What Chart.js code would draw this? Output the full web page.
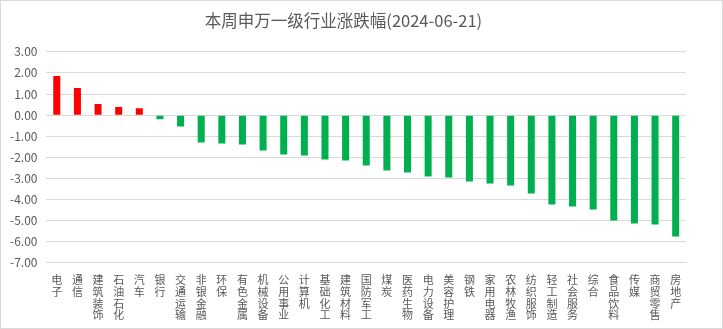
<!DOCTYPE html>
<html>
<head>
<meta charset="utf-8">
<script src="https://cdn.jsdelivr.net/npm/chart.js@4/dist/chart.umd.min.js"></script>
<style>
  html, body { margin: 0; padding: 0; background: #fff; }
  #wrap { position: relative; width: 723px; height: 329px; box-sizing: border-box; border: 1px solid #d9d9d9; }
  canvas { display: block; }
</style>
</head>
<body>
<div id="wrap"><canvas id="grafico" width="721" height="327"></canvas></div>
<script>
// 行业名称
const industrias = ["电子", "通信", "建筑装饰", "石油石化", "汽车", "银行", "交通运输", "非银金融", "环保", "有色金属",
  "机械设备", "公用事业", "计算机", "基础化工", "建筑材料", "国防军工", "煤炭", "医药生物", "电力设备", "美容护理",
  "钢铁", "家用电器", "农林牧渔", "纺织服饰", "轻工制造", "社会服务", "综合", "食品饮料", "传媒", "商贸零售", "房地产"];

// 本周涨跌幅 (%)
const cambios = [1.85, 1.28, 0.53, 0.38, 0.33, -0.20, -0.54, -1.30, -1.34, -1.39,
  -1.67, -1.86, -1.91, -2.10, -2.15, -2.39, -2.62, -2.72, -2.91, -2.95,
  -3.14, -3.24, -3.33, -3.71, -4.23, -4.33, -4.47, -4.99, -5.13, -5.18, -5.75];

const titulo = "本周申万一级行业涨跌幅(2024-06-21)";
const yMin = -7;
const yMax = 3;

const rojo = "#ff0000";
const verde = "#00b050";
const gris = "#595959";
const fuente = "'Noto Sans CJK SC', 'Noto Sans', sans-serif";

// cada caracter en su propia linea (texto vertical)
const etiquetas = industrias.map((nombre) => nombre.split(""));
const colores = cambios.map((v) => (v >= 0 ? rojo : verde));

const canvas = document.getElementById("grafico");
new Chart(canvas, {
  type: "bar",
  data: {
    labels: etiquetas,
    datasets: [
      {
        label: "涨跌幅",
        data: cambios,
        backgroundColor: colores,
        borderWidth: 0,
        barPercentage: 0.68,
        categoryPercentage: 0.5,
      },
    ],
  },
  options: {
    responsive: false,
    animation: false,
    devicePixelRatio: 1,
    layout: { padding: { left: 0, right: 36, top: 4, bottom: 4 } },
    plugins: {
      legend: { display: false },
      tooltip: { enabled: false },
      title: {
        display: true,
        text: titulo,
        color: gris,
        font: { family: fuente, size: 16.5, weight: "normal" },
        padding: { top: 6, bottom: 21 },
      },
    },
    scales: {
      x: {
        grid: { display: false },
        border: { display: true, color: "#d9d9d9" },
        ticks: {
          color: gris,
          autoSkip: false,
          maxRotation: 0,
          minRotation: 0,
          padding: 3,
          font: { family: fuente, size: 11, lineHeight: 1.07 },
        },
      },
      y: {
        min: yMin,
        max: yMax,
        grid: { color: "#d9d9d9", drawTicks: false },
        border: { display: false },
        ticks: {
          stepSize: 1,
          color: gris,
          padding: 9,
          font: { family: fuente, size: 12 },
          callback: (v) => v.toFixed(2),
        },
      },
    },
  },
});
</script>
</body>
</html>
